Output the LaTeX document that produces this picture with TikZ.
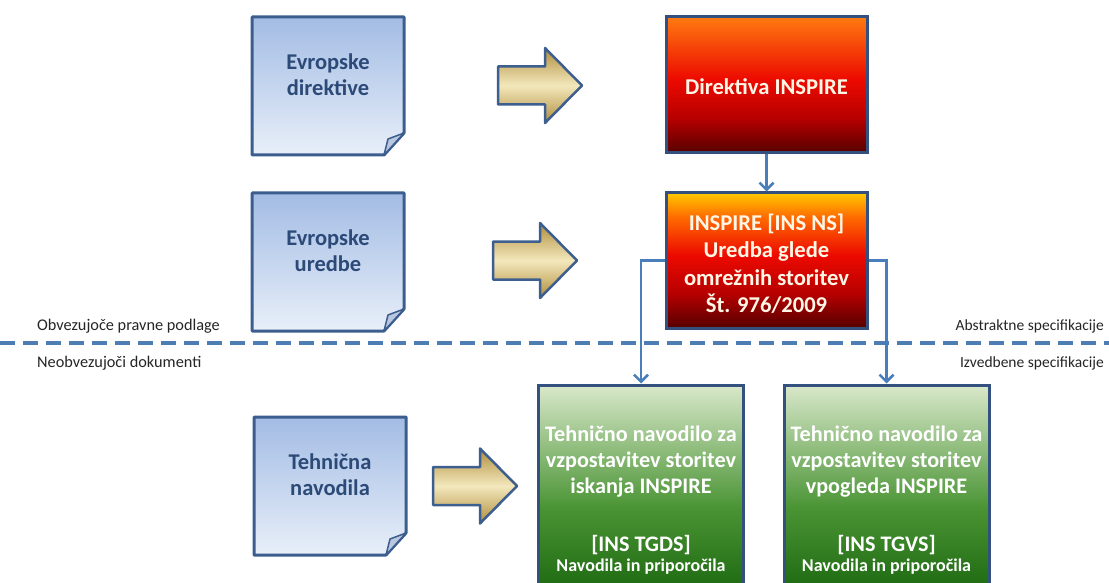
\documentclass[tikz,border=0pt]{standalone}
\usepackage{fontspec}
\setmainfont{Carlito}
\usetikzlibrary{arrows.meta}
\definecolor{noteTop}{HTML}{A3BCE4}
\definecolor{noteBot}{HTML}{E8EFF9}
\definecolor{noteLine}{HTML}{3C5E8E}
\definecolor{noteText}{HTML}{2C4A78}
\definecolor{foldCol}{HTML}{B9C8E0}
\definecolor{goldA}{HTML}{B08D3C}
\definecolor{goldB}{HTML}{F3E8BC}
\definecolor{arrLine}{HTML}{3D5F90}
\definecolor{rDark}{HTML}{560000}
\definecolor{rMid}{HTML}{B80000}
\definecolor{rRed}{HTML}{EC0A00}
\definecolor{rOrange}{HTML}{FF6A00}
\definecolor{rOrTop}{HTML}{FF7A10}
\definecolor{rYellow}{HTML}{FFC800}
\definecolor{gTop}{HTML}{D9E8CB}
\definecolor{gMid}{HTML}{4A9434}
\definecolor{gBot}{HTML}{1E6A12}
\definecolor{boxLine}{HTML}{34507E}
\definecolor{conn}{HTML}{4A7EBB}
\definecolor{dashCol}{HTML}{4D7DB3}
\definecolor{boxText}{HTML}{FFF6E6}
\pgfdeclareverticalshading{redone}{100bp}{color(0bp)=(rDark); color(25bp)=(rDark); color(38bp)=(rMid); color(52bp)=(rRed); color(75bp)=(rOrTop); color(100bp)=(rOrTop)}
\pgfdeclareverticalshading{redtwo}{100bp}{color(0bp)=(rDark); color(25bp)=(rDark); color(38bp)=(rMid); color(52bp)=(rRed); color(66bp)=(rOrange); color(75bp)=(rYellow); color(100bp)=(rYellow)}
\pgfdeclareverticalshading{greenbox}{100bp}{color(0bp)=(gBot); color(25bp)=(gBot); color(45bp)=(gMid); color(75bp)=(gTop); color(100bp)=(gTop)}
\newcommand\mynote[4]{%
  \path[draw=noteLine, line width=3pt, line join=round, top color=noteTop, bottom color=noteBot]
    (#2,#3) -- ++(152,0) -- ++(0,116) -- ++(-20,22) -- ++(-132,0) -- cycle;
  \path[draw=noteLine, line width=1.5pt, line join=round, fill=foldCol]
    (#2+132,#3+138) -- (#2+136,#3+122) -- (#2+152,#3+116) -- cycle;
  \node[notetext] (#1) at (#2+76,#3+58) {#4};
}
\newcommand\goldarrow[2]{%
  \path[goldarrowstyle]
    (#1,#2+18.5) -- (#1+47,#2+18.5) -- (#1+47,#2) -- (#1+84,#2+37.5)
    -- (#1+47,#2+75) -- (#1+47,#2+56.5) -- (#1,#2+56.5) -- cycle;
}
\begin{document}
\begin{tikzpicture}[x=1pt,y=-1pt,
  notetext/.style={text=noteText, font=\fontsize{22.5}{26}\selectfont\bfseries, align=center, inner sep=0pt},
  goldarrowstyle/.style={draw=arrLine, line width=2.5pt, line join=round, top color=goldA, bottom color=goldA, middle color=goldB},
  redbox/.style={draw=boxLine, line width=3pt, minimum width=201pt, inner sep=0pt},
  redtext/.style={inner sep=0pt, text=boxText, align=center, font=\fontsize{22.6}{27.5}\selectfont\bfseries},
  greenbox/.style={draw=boxLine, line width=3pt, minimum width=205pt, minimum height=205pt, inner sep=0pt, shading=greenbox},
  greentext/.style={text=white, align=center, inner sep=0pt, font=\fontsize{22.2}{26}\selectfont\bfseries},
  smalltext/.style={text=white, inner sep=0pt, font=\fontsize{18}{20}\selectfont\bfseries},
  sidelabel/.style={inner sep=0pt, text=black!85, font=\fontsize{15.5}{18}\selectfont},
  leftlabel/.style={sidelabel, font=\fontsize{16.3}{18}\selectfont},
  connector/.style={draw=conn, line width=2.5pt, -{Straight Barb[length=7pt,width=14pt,line width=2.5pt]}}
]
\clip (0,0) rectangle (1109,583);
\fill[white] (0,0) rectangle (1109,583);

% notes
\mynote{n1}{252}{17}{Evropske\\direktive}
\mynote{n2}{252}{193}{Evropske\\uredbe}
\mynote{n3}{254}{417}{Tehnična\\navodila}

% gold arrows
\goldarrow{498}{48}
\goldarrow{493}{223}
\goldarrow{433}{448.5}

% red boxes
\node[redbox, minimum height=136pt, shading=redone] (d1) at (766.5,85) {};
\node[redtext] (d1t) at (766.5,87) {Direktiva INSPIRE};
\node[redbox, minimum height=135pt, shading=redtwo] (d2) at (766.5,260.5) {};
\node[redtext] (d2t) at (766.5,264) {INSPIRE [INS NS]\\Uredba glede\\omrežnih storitev\\Št. 976/2009};

% green boxes
\node[greenbox] (g1) at (641,487.5) {};
\node[greenbox] (g2) at (886.5,487.5) {};
\node[greentext] (g1t) at (641,462) {Tehnično navodilo za\\vzpostavitev storitev\\iskanja INSPIRE};
\node[greentext] (g2t) at (886.5,462) {Tehnično navodilo za\\vzpostavitev storitev\\vpogleda INSPIRE};
\node[greentext] (g1c) at (641,545) {[INS TGDS]};
\node[greentext] (g2c) at (886.5,545) {[INS TGVS]};
\node[smalltext] (g1s) at (641,567) {Navodila in priporočila};
\node[smalltext] (g2s) at (886.5,567) {Navodila in priporočila};

% dashed separator
\coordinate (dl) at (0,343);
\coordinate (dr) at (1109,343);
\draw[dashCol, line width=4pt, dash pattern=on 15pt off 8pt] (dl) -- (dr);

% side labels
\node[leftlabel, anchor=west] (l1) at (37,326) {Obvezujoče pravne podlage};
\node[leftlabel, anchor=west] (l2) at (37,363) {Neobvezujoči dokumenti};
\node[sidelabel, anchor=east] (r1) at (1104,326) {Abstraktne specifikacije};
\node[sidelabel, anchor=east] (r2) at (1104,363) {Izvedbene specifikacije};

% connectors
\draw[connector] (d1.south) -- (d2.north);
\draw[connector] (d2.west) -| (g1.north);
\draw[connector] (d2.east) -| (g2.north);
\end{tikzpicture}
\end{document}
